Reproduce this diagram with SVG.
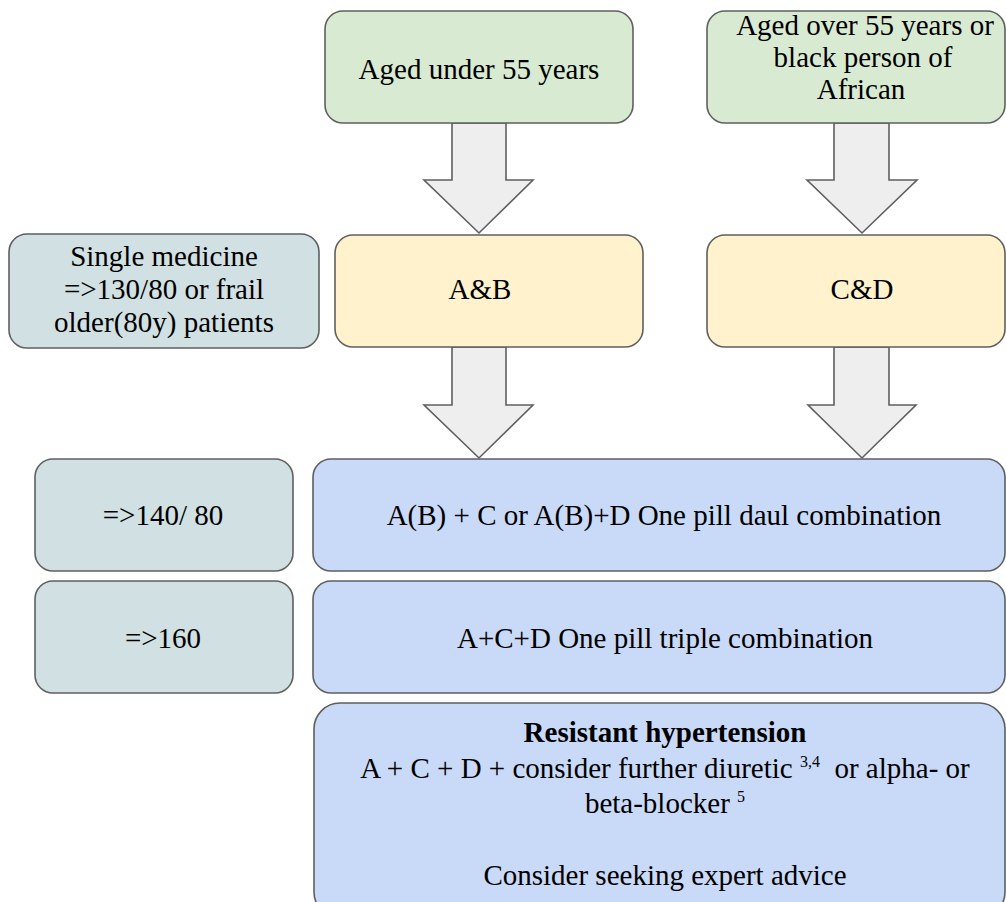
<svg xmlns="http://www.w3.org/2000/svg" width="1006" height="902" viewBox="0 0 1006 902">
<style>
.box{stroke:#5f5f5f;stroke-width:1.6}
.g{fill:#d9ead3}.y{fill:#fff2cc}.t{fill:#d0e0e3}.b{fill:#c9daf8}
.arr{fill:#eeeeee;stroke:#5f5f5f;stroke-width:1.6;stroke-linejoin:miter}
text{font-family:"Liberation Serif","Times New Roman",Times,serif;font-size:29px;fill:#000;text-anchor:middle}
.bold{font-weight:bold}
.sup{font-size:16px}
</style>
<rect width="1006" height="902" fill="#ffffff"/>
<g id="connectors">
<polygon class="arr" points="452,123 506,123 506,180 533,180 479,233 424,180 452,180"/>
<polygon class="arr" points="834,123 889,123 889,180 917,180 862,233 807,180 834,180"/>
<polygon class="arr" points="452,347 506,347 506,405 533,405 479,458 424,405 452,405"/>
<polygon class="arr" points="834,347 889,347 889,405 916,405 862,458 808,405 834,405"/>
</g>
<g id="under55">
<rect class="box g" x="325" y="11" width="308" height="112" rx="18"/>
<text x="479" y="79">Aged under 55 years</text>
</g>
<g id="over55">
<rect class="box g" x="707" y="11" width="298" height="112" rx="18"/>
<text x="865" y="35">Aged over 55 years or</text>
<text x="863" y="67">black person of</text>
<text x="861" y="99">African</text>
</g>
<g id="single">
<rect class="box t" x="9" y="234" width="310" height="114" rx="18"/>
<text x="164" y="266">Single medicine</text>
<text x="164" y="299">=&gt;130/80 or frail</text>
<text x="164" y="332">older(80y) patients</text>
</g>
<g id="ab">
<rect class="box y" x="335" y="235" width="308" height="112" rx="18"/>
<text x="480" y="299">A&amp;B</text>
</g>
<g id="cd">
<rect class="box y" x="707" y="235" width="298" height="112" rx="18"/>
<text x="862" y="299">C&amp;D</text>
</g>
<g id="bp140">
<rect class="box t" x="35" y="459" width="258" height="112" rx="18"/>
<text x="163" y="525">=&gt;140/ 80</text>
</g>
<g id="dual">
<rect class="box b" x="313" y="459" width="692" height="112" rx="18"/>
<text x="664" y="525">A(B) + C or A(B)+D One pill daul combination</text>
</g>
<g id="bp160">
<rect class="box t" x="35" y="581" width="258" height="112" rx="18"/>
<text x="163" y="648">=&gt;160</text>
</g>
<g id="triple">
<rect class="box b" x="313" y="581" width="692" height="112" rx="18"/>
<text x="665" y="648">A+C+D One pill triple combination</text>
</g>
<g id="resistant">
<rect class="box b" x="314" y="703" width="691" height="215" rx="26"/>
<text class="bold" x="665" y="742">Resistant hypertension</text>
<text x="665" y="778" xml:space="preserve">A + C + D + consider further diuretic <tspan class="sup" dy="-11">3,4</tspan><tspan dy="11">  or alpha- or</tspan></text>
<text x="665" y="813">beta-blocker <tspan class="sup" dy="-11">5</tspan></text>
<text x="665" y="885">Consider seeking expert advice</text>
</g>
</svg>
